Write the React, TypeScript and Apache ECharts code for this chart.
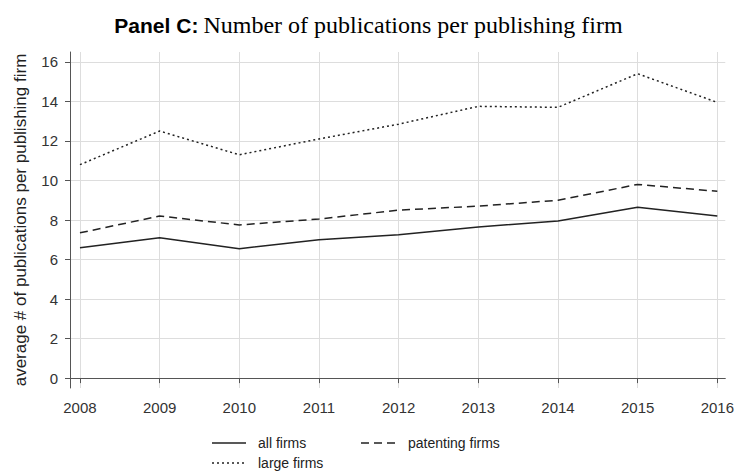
import React, { useEffect, useRef } from "react";
import * as echarts from "echarts";

const years = [2008, 2009, 2010, 2011, 2012, 2013, 2014, 2015, 2016];
const allFirms = [6.6, 7.1, 6.55, 7.0, 7.25, 7.65, 7.95, 8.65, 8.2];
const patentingFirms = [7.35, 8.2, 7.75, 8.05, 8.5, 8.7, 9.0, 9.8, 9.45];
const largeFirms = [10.8, 12.5, 11.3, 12.1, 12.85, 13.75, 13.7, 15.4, 13.95];
const yTicks = [0, 2, 4, 6, 8, 10, 12, 14, 16];
const legendNames = ["all firms", "patenting firms", "large firms"];

const pair = (vals: number[]) => years.map((y, i) => [y, vals[i]]);

export default function App() {
  const ref = useRef<HTMLDivElement>(null);
  useEffect(() => {
    const chart = echarts.init(ref.current!, null, { renderer: "svg" });
    const lineColor = "#222";
    const sans = "Liberation Sans, Arial, sans-serif";
    const axisText = { color: "#333", fontFamily: sans, fontSize: 15 };
    const legendText = { fill: "#222", font: `14px ${sans}` };
    chart.setOption({
      animation: false,
      backgroundColor: "#fff",
      title: {
        text: "{b|Panel C:} {n|Number of publications per publishing firm}",
        left: "center",
        top: 8,
        textStyle: {
          rich: {
            b: { fontFamily: sans, fontWeight: "bold", fontSize: 21, color: "#000" },
            n: { fontFamily: "Liberation Serif, Times New Roman, serif", fontWeight: "normal", fontSize: 24, color: "#000" },
          },
        },
      },
      grid: { left: 70, top: 52, right: 7, bottom: 83 },
      graphic: [
        { type: "line", shape: { x1: 212, y1: 443, x2: 246, y2: 443 }, style: { stroke: lineColor, lineWidth: 1.3 } },
        { type: "text", x: 258, y: 443, style: { text: legendNames[0], ...legendText, verticalAlign: "middle" } },
        { type: "line", shape: { x1: 361, y1: 443, x2: 396, y2: 443 }, style: { stroke: lineColor, lineWidth: 1.3, lineDash: [8, 5] } },
        { type: "text", x: 408, y: 443, style: { text: legendNames[1], ...legendText, verticalAlign: "middle" } },
        { type: "line", shape: { x1: 212, y1: 463, x2: 246, y2: 463 }, style: { stroke: lineColor, lineWidth: 1.3, lineDash: [2, 3] } },
        { type: "text", x: 258, y: 463, style: { text: legendNames[2], ...legendText, verticalAlign: "middle" } },
      ],
      xAxis: {
        type: "value",
        min: 2007.875,
        max: 2016.1,
        axisLine: { show: true, lineStyle: { color: "#555" } },
        axisTick: { show: true, customValues: years, length: 5, lineStyle: { color: "#555" } },
        axisLabel: { customValues: years, ...axisText, margin: 12, formatter: (v: number) => String(v) },
        splitLine: { show: true, lineStyle: { color: "#ddd" } },
      },
      yAxis: {
        type: "value",
        min: -0.5,
        max: 16.5,
        name: "average # of publications per publishing firm",
        nameLocation: "middle",
        nameGap: 41,
        nameTextStyle: { ...axisText, fontSize: 17, color: "#222" },
        axisLine: { show: true, lineStyle: { color: "#555" } },
        axisTick: { show: true, customValues: yTicks, length: 5, lineStyle: { color: "#555" } },
        axisLabel: { customValues: yTicks, ...axisText, margin: 12 },
        splitLine: { show: true, lineStyle: { color: "#ddd" } },
      },
      series: [
        {
          name: legendNames[0],
          type: "line",
          symbol: "none",
          data: pair(allFirms),
          lineStyle: { color: lineColor, width: 1.5, type: "solid" },
          itemStyle: { color: lineColor },
        },
        {
          name: legendNames[1],
          type: "line",
          symbol: "none",
          data: pair(patentingFirms),
          lineStyle: { color: lineColor, width: 1.5, type: [8, 5] },
          itemStyle: { color: lineColor },
        },
        {
          name: legendNames[2],
          type: "line",
          symbol: "none",
          data: pair(largeFirms),
          lineStyle: { color: lineColor, width: 1.5, type: [2, 3] },
          itemStyle: { color: lineColor },
        },
      ],
    });
    return () => chart.dispose();
  }, []);
  return <div ref={ref} style={{ width: 737, height: 471, position: "absolute", left: 0, top: 0 }} />;
}
